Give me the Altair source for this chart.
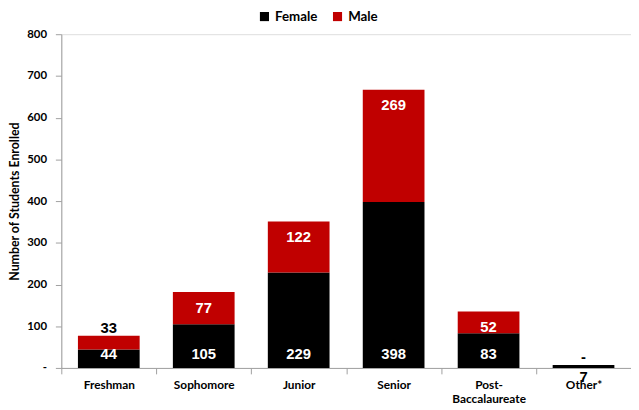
import altair as alt
import pandas as pd

categories = ["Freshman", "Sophomore", "Junior", "Senior", "Post-Baccalaureate", "Other*"]
female = [44, 105, 229, 398, 83, 7]
male = [33, 77, 122, 269, 52, 0]
y_ticks = [0, 100, 200, 300, 400, 500, 600, 700, 800]

df = pd.DataFrame({"category": categories, "Female": female, "Male": male})
df["total"] = df["Female"] + df["Male"]

FONT = "Lato"
NUM_FONT = "Liberation Sans"
AXIS_GREY = "#A0A0A0"

x_enc = alt.X(
    "category:N",
    sort=categories,
    scale=alt.Scale(paddingInner=0, paddingOuter=0),
    axis=alt.Axis(
        title=None,
        labelFont=FONT,
        labelFontWeight="bold",
        labelFontSize=12,
        labelColor="#000000",
        labelAngle=0,
        labelPadding=6,
        labelLineHeight=14,
        labelExpr="datum.label == 'Post-Baccalaureate' ? ['Post-', 'Baccalaureate'] : datum.label",
        tickBand="extent",
        tickSize=6,
        tickColor=AXIS_GREY,
        domainColor=AXIS_GREY,
        grid=False,
    ),
)

y_scale = alt.Scale(domain=[0, 800], nice=False)

bars = (
    alt.Chart(df)
    .transform_fold(["Female", "Male"], as_=["sex", "count"])
    .mark_bar(width=alt.RelativeBandSize(0.65))
    .encode(
        x=x_enc,
        y=alt.Y(
            "count:Q",
            stack="zero",
            scale=y_scale,
            axis=alt.Axis(
                title="Number of Students Enrolled",
                titleFont=FONT,
                titleFontWeight="bold",
                titleFontSize=12.5,
                titleColor="#000000",
                titleX=-47,
                titleY=169,
                titleAngle=-90,
                titleAlign="center",
                titleBaseline="middle",
                values=y_ticks,
                labelExpr="datum.value == 0 ? '-' : datum.label",
                labelFont=FONT,
                labelFontWeight="bold",
                labelFontSize=11.5,
                labelColor="#000000",
                labelPadding=9,
                tickSize=6,
                tickColor=AXIS_GREY,
                domainColor=AXIS_GREY,
                grid=False,
            ),
        ),
        color=alt.Color(
            "sex:N",
            scale=alt.Scale(domain=["Female", "Male"], range=["#000000", "#C00000"]),
            legend=alt.Legend(
                title=None,
                orient="none",
                direction="horizontal",
                legendX=199,
                legendY=-25,
                symbolType="square",
                symbolSize=85,
                symbolStrokeWidth=0,
                labelFont=FONT,
                labelFontWeight="bold",
                labelFontSize=13.5,
                labelColor="#000000",
                labelOffset=4,
                columnPadding=13,
                padding=0,
            ),
        ),
        order=alt.Order("sex:N"),
    )
)

text_base = alt.Chart(df).encode(x=alt.X("category:N", sort=categories))
num_style = dict(font=NUM_FONT, fontWeight="bold", fontSize=15, align="center", baseline="middle")

female_in = text_base.transform_filter("datum.Female >= 20").mark_text(
    color="white", dy=-14, **num_style
).encode(y=alt.Y("zero:Q", scale=y_scale), text="Female:Q").transform_calculate(zero="0")

female_out = text_base.transform_filter("datum.Female < 20").mark_text(
    color="black", dy=9, **num_style
).encode(y=alt.Y("zero:Q", scale=y_scale), text="Female:Q").transform_calculate(zero="0")

male_in = text_base.transform_filter("datum.Male >= 40").mark_text(
    color="white", dy=16, **num_style
).encode(y=alt.Y("total:Q", scale=y_scale), text="Male:Q")

male_out = text_base.transform_filter("datum.Male < 40").transform_calculate(
    mlabel="datum.Male == 0 ? '-' : format(datum.Male, 'd')"
).mark_text(color="black", dy=-8, **num_style).encode(
    y=alt.Y("total:Q", scale=y_scale), text="mlabel:N"
)

chart = (
    alt.layer(bars, female_in, female_out, male_in, male_out)
    .properties(
        width=577,
        height=338,
        autosize=alt.AutoSizeParams(type="none"),
        padding={"left": 54, "top": 24, "right": 0, "bottom": 36},
    )
    .configure_view(stroke=None)
    .configure(background="white")
)

chart.save("out.html", embed_options={"renderer": "svg", "actions": False})
